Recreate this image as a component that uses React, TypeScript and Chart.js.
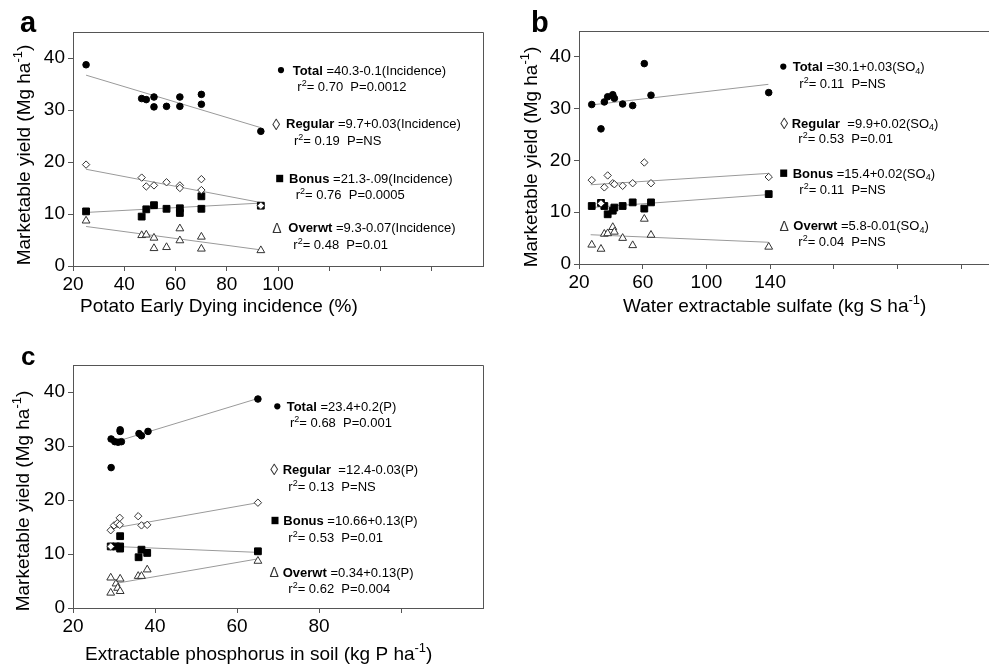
import React, { useEffect, useRef } from "react";
import { Chart, registerables } from "chart.js";
Chart.register(...registerables);

const FONT = "'Liberation Sans', Arial, Helvetica, sans-serif";
const AXIS = "#555";
const FIT = "#9a9a9a";
const TXT = "#000";

// ---------- Panel a : Potato Early Dying incidence (%)
const aTotalX = [25.1, 46.8, 48.6, 51.6, 51.6, 56.5, 61.7, 61.7, 70.1, 70.1, 93.3];
const aTotalY = [38.7, 32.2, 32.0, 32.5, 30.6, 30.7, 32.5, 30.7, 33.0, 31.1, 25.9];
const aRegularX = [25.1, 46.8, 48.6, 51.6, 56.5, 61.7, 61.7, 70.1, 70.1, 93.3];
const aRegularY = [19.5, 17.0, 15.3, 15.5, 16.1, 15.5, 15.0, 16.7, 14.6, 11.6];
const aBonusX = [25.1, 46.8, 48.6, 51.6, 56.5, 61.7, 61.7, 70.1, 70.1, 93.3];
const aBonusY = [10.5, 9.5, 10.9, 11.7, 11.0, 11.1, 10.2, 13.4, 11.0, 11.6];
const aOverwtX = [25.1, 46.8, 48.6, 51.6, 51.6, 56.5, 61.7, 61.7, 70.1, 70.1, 93.3];
const aOverwtY = [8.7, 5.9, 6.0, 5.4, 3.4, 3.6, 7.2, 4.9, 5.6, 3.3, 3.0];
const aFitX = [25.1, 93.3];
const aTotalFit = [36.7, 26.6];
const aRegularFit = [18.6, 12.2];
const aBonusFit = [10.3, 12.1];
const aOverwtFit = [7.6, 3.1];
const aXLabels = [20, 40, 60, 80, 100];
const aEquations = [" =40.3-0.1(Incidence)", " =9.7+0.03(Incidence)", " =21.3-.09(Incidence)", " =9.3-0.07(Incidence)"];
const aR2 = ["0.70", "0.19", "0.76", "0.48"];
const aP = ["P=0.0012", "P=NS", "P=0.0005", "P=0.01"];

// ---------- Panel b : Water extractable sulfate
const bSiteX = [28.0, 33.8, 35.9, 38.0, 41.2, 42.2, 47.4, 53.7, 61.0, 65.2, 139.1];
const bTotalY = [30.8, 26.1, 31.3, 32.3, 32.7, 32.0, 30.9, 30.6, 38.7, 32.6, 33.1];
const bRegularY = [16.2, 11.7, 14.8, 17.1, 15.6, 15.4, 15.1, 15.6, 19.6, 15.6, 16.8];
const bBonusY = [11.2, 11.8, 11.2, 9.6, 10.3, 10.9, 11.2, 11.9, 10.7, 11.9, 13.5];
const bOverwtY = [3.7, 2.9, 5.8, 5.9, 7.1, 6.2, 5.0, 3.6, 8.7, 5.6, 3.3];
const bFitX = [27.3, 138.9];
const bTotalFit = [30.7, 34.7];
const bRegularFit = [15.3, 17.5];
const bBonusFit = [10.9, 13.4];
const bOverwtFit = [5.65, 4.2];
const bXLabels = [20, 60, 100, 140];
const bEquations = [" =30.1+0.03(SO4)", "  =9.9+0.02(SO4)", " =15.4+0.02(SO4)", " =5.8-0.01(SO4)"];
const bR2 = ["0.11", "0.53", "0.11", "0.04"];
const bP = ["P=NS", "P=0.01", "P=NS", "P=NS"];

// ---------- Panel c : Extractable phosphorus in soil
const cTotalX = [29.3, 30.2, 31.0, 31.8, 31.5, 31.5, 36.1, 36.7, 38.3, 65.1, 29.3];
const cTotalY = [31.3, 30.8, 30.7, 30.8, 33.0, 32.7, 32.3, 31.9, 32.7, 38.7, 26.0];
const cRegularX = [29.2, 30.0, 30.8, 31.4, 31.4, 35.9, 36.7, 38.1, 65.1, 29.2];
const cRegularY = [14.4, 15.3, 15.7, 16.7, 15.4, 17.0, 15.3, 15.4, 19.5, 11.4];
const cBonusX = [29.2, 30.5, 31.5, 31.5, 31.5, 36.0, 36.7, 38.1, 65.1];
const cBonusY = [11.4, 11.4, 11.4, 11.0, 13.3, 9.4, 10.8, 10.2, 10.5];
const cOverwtX = [29.2, 29.2, 30.5, 30.9, 31.5, 31.5, 35.9, 36.7, 38.1, 65.1];
const cOverwtY = [5.6, 2.8, 4.5, 3.7, 5.4, 3.1, 5.9, 5.9, 7.1, 8.7];
const cFitX = [30.0, 65.1];
const cTotalFit = [30.7, 38.8];
const cRegularFit = [14.8, 19.5];
const cBonusFit = [11.4, 10.3];
const cOverwtFit = [4.5, 9.1];
const cXLabels = [20, 40, 60, 80];
const cEquations = [" =23.4+0.2(P)", "  =12.4-0.03(P)", " =10.66+0.13(P)", " =0.34+0.13(P)"];
const cR2 = ["0.68", "0.13", "0.53", "0.62"];
const cP = ["P=0.001", "P=NS", "P=0.01", "P=0.004"];

const seriesNames = ["Total", "Regular", "Bonus", "Overwt"];
const yTickValues = [0, 10, 20, 30, 40];

type Seg = { t: string; b?: boolean; sup?: boolean; sub?: boolean };

function pts(xs: number[], ys: number[]) {
  return xs.map((x, i) => ({ x, y: ys[i] }));
}

function eqSegs(s: string): Seg[] {
  const i = s.indexOf("SO4");
  if (i < 0) return [{ t: s }];
  return [{ t: s.slice(0, i + 2) }, { t: "4", sub: true }, { t: s.slice(i + 3) }];
}

function drawSegs(ctx: CanvasRenderingContext2D, x: number, y: number, segs: Seg[], size: number, measureOnly = false) {
  let cx = x;
  for (const s of segs) {
    const fs = s.sup || s.sub ? Math.round(size * 0.66) : size;
    ctx.font = `${s.b ? "bold " : ""}${fs}px ${FONT}`;
    const dy = s.sup ? -size * 0.4 : s.sub ? size * 0.2 : 0;
    if (!measureOnly) ctx.fillText(s.t, cx, y + dy);
    cx += ctx.measureText(s.t).width;
  }
  return cx - x;
}

type Marker = "dot" | "lozenge" | "square" | "delta";
type Line = { x: number; y: number; segs: Seg[]; m?: Marker; mx?: number };

interface PanelSpec {
  w: number;
  h: number;
  left: number;
  top: number;
  pad: { top: number; right: number };
  yW: number;
  xH: number;
  xMin: number;
  xMax: number;
  xStep: number;
  xLabels: number[];
  total: { x: number; y: number }[];
  regular: { x: number; y: number }[];
  bonus: { x: number; y: number }[];
  overwt: { x: number; y: number }[];
  fits: { x: number; y: number }[][];
  letter: { t: string; x: number; y: number; size: number };
  yTitle: { x: number; cy: number };
  xTitle: { x: number; y: number; segs: Seg[] };
  lines: Line[];
}

function buildLines(
  eqs: string[],
  r2: string[],
  ps: string[],
  rows: { mx: number; tx: number; y: number; sx: number; sy: number }[]
): Line[] {
  const out: Line[] = [];
  const markers: Marker[] = ["dot", "lozenge", "square", "delta"];
  rows.forEach((r, i) => {
    out.push({ x: r.tx, y: r.y, m: markers[i], mx: r.mx, segs: [{ t: seriesNames[i], b: true }, ...eqSegs(eqs[i])] });
    out.push({ x: r.sx, y: r.sy, segs: [{ t: "r" }, { t: "2", sup: true }, { t: "= " + r2[i] + "  " + ps[i] }] });
  });
  return out;
}

const yTitleSegs: Seg[] = [{ t: "Marketable yield (Mg ha" }, { t: "-1", sup: true }, { t: ")" }];

const panels: PanelSpec[] = [
  {
    w: 495, h: 330, left: 0, top: 0, pad: { top: 32, right: 12 }, yW: 73, xH: 64,
    xMin: 20, xMax: 180, xStep: 20, xLabels: aXLabels,
    total: pts(aTotalX, aTotalY), regular: pts(aRegularX, aRegularY), bonus: pts(aBonusX, aBonusY), overwt: pts(aOverwtX, aOverwtY),
    fits: [pts(aFitX, aTotalFit), pts(aFitX, aRegularFit), pts(aFitX, aBonusFit), pts(aFitX, aOverwtFit)],
    letter: { t: "a", x: 20, y: 31.5, size: 29 },
    yTitle: { x: 30, cy: 155 },
    xTitle: { x: 80, y: 311.5, segs: [{ t: "Potato Early Dying incidence (%)" }] },
    lines: buildLines(aEquations, aR2, aP, [
      { mx: 281, tx: 292.7, y: 74.5, sx: 297.3, sy: 91 },
      { mx: 272.2, tx: 286, y: 128.3, sx: 294, sy: 145 },
      { mx: 279.7, tx: 289, y: 183, sx: 295.7, sy: 199 },
      { mx: 272.2, tx: 288.3, y: 232.3, sx: 293.3, sy: 249 },
    ]),
  },
  {
    w: 545, h: 330, left: 490, top: 0, pad: { top: 31, right: 10 }, yW: 89, xH: 66,
    xMin: 20, xMax: 300, xStep: 40, xLabels: bXLabels,
    total: pts(bSiteX, bTotalY), regular: pts(bSiteX, bRegularY), bonus: pts(bSiteX, bBonusY), overwt: pts(bSiteX, bOverwtY),
    fits: [pts(bFitX, bTotalFit), pts(bFitX, bRegularFit), pts(bFitX, bBonusFit), pts(bFitX, bOverwtFit)],
    letter: { t: "b", x: 41, y: 31.5, size: 29 },
    yTitle: { x: 47, cy: 157 },
    xTitle: { x: 133, y: 311.5, segs: [{ t: "Water extractable sulfate (kg S ha" }, { t: "-1", sup: true }, { t: ")" }] },
    lines: buildLines(bEquations, bR2, bP, [
      { mx: 293.3, tx: 302.7, y: 71, sx: 309.3, sy: 87.7 },
      { mx: 290.2, tx: 301.7, y: 127.7, sx: 308.3, sy: 143.3 },
      { mx: 293.7, tx: 302.7, y: 177.7, sx: 309.3, sy: 194.3 },
      { mx: 289.5, tx: 303.3, y: 230, sx: 308.3, sy: 245.7 },
    ]),
  },
  {
    w: 495, h: 336, left: 0, top: 330, pad: { top: 35, right: 12 }, yW: 73, xH: 58,
    xMin: 20, xMax: 120, xStep: 20, xLabels: cXLabels,
    total: pts(cTotalX, cTotalY), regular: pts(cRegularX, cRegularY), bonus: pts(cBonusX, cBonusY), overwt: pts(cOverwtX, cOverwtY),
    fits: [pts(cFitX, cTotalFit), pts(cFitX, cRegularFit), pts(cFitX, cBonusFit), pts(cFitX, cOverwtFit)],
    letter: { t: "c", x: 21, y: 35, size: 26 },
    yTitle: { x: 29, cy: 171 },
    xTitle: { x: 85, y: 330, segs: [{ t: "Extractable phosphorus in soil (kg P ha" }, { t: "-1", sup: true }, { t: ")" }] },
    lines: buildLines(cEquations, cR2, cP, [
      { mx: 277.3, tx: 286.7, y: 80.7, sx: 290, sy: 97.3 },
      { mx: 270.2, tx: 282.7, y: 144, sx: 288.3, sy: 161 },
      { mx: 275, tx: 283.3, y: 195, sx: 288.3, sy: 211.7 },
      { mx: 269.5, tx: 282.7, y: 246.7, sx: 288.3, sy: 263.3 },
    ]),
  },
];

function drawMarker(ctx: CanvasRenderingContext2D, m: Marker, x: number, y: number) {
  ctx.save();
  ctx.fillStyle = "#000";
  if (m === "dot") {
    ctx.beginPath();
    ctx.arc(x, y - 4.4, 3.1, 0, Math.PI * 2);
    ctx.fill();
  } else if (m === "square") {
    ctx.fillRect(x - 3.5, y - 8.2, 7, 7.4);
  } else if (m === "lozenge") {
    ctx.fillStyle = "#333";
    ctx.font = `16px ${FONT}`;
    ctx.fillText("\u25CA", x, y + 1.4);
  } else {
    ctx.fillStyle = "#333";
    ctx.font = `14px ${FONT}`;
    ctx.fillText("\u0394", x, y + 0.5);
  }
  ctx.restore();
}

function makeOverlay(p: PanelSpec) {
  return {
    id: "overlay",
    afterDraw(chart: Chart) {
      const ctx = chart.ctx;
      const ca = chart.chartArea;
      const al = (v: number) => Math.round(v - 0.5) + 0.5;
      ctx.save();
      // frame (top and right sides)
      ctx.strokeStyle = AXIS;
      ctx.lineWidth = 1;
      ctx.beginPath();
      ctx.moveTo(al(ca.left), al(ca.top));
      ctx.lineTo(al(ca.right), al(ca.top));
      ctx.lineTo(al(ca.right), al(ca.bottom));
      ctx.stroke();

      ctx.textAlign = "left";
      ctx.textBaseline = "alphabetic";
      // panel letter
      ctx.fillStyle = "#000";
      ctx.font = `bold ${p.letter.size}px ${FONT}`;
      ctx.fillText(p.letter.t, p.letter.x, p.letter.y);
      // x title
      drawSegs(ctx, p.xTitle.x, p.xTitle.y, p.xTitle.segs, 19);
      // y title
      ctx.save();
      ctx.translate(p.yTitle.x, p.yTitle.cy);
      ctx.rotate(-Math.PI / 2);
      const w = drawSegs(ctx, 0, 0, yTitleSegs, 19, true);
      drawSegs(ctx, -w / 2, 0, yTitleSegs, 19);
      ctx.restore();
      // equations
      for (const ln of p.lines) {
        if (ln.m && ln.mx !== undefined) drawMarker(ctx, ln.m, ln.mx, ln.y);
        ctx.fillStyle = TXT;
        drawSegs(ctx, ln.x, ln.y, ln.segs, 13);
      }
      ctx.restore();
    },
  };
}

function makeConfig(p: PanelSpec): any {
  const fitDs = p.fits.map((d, i) => ({
    label: seriesNames[i] + " fit",
    data: d,
    showLine: true,
    pointRadius: 0,
    borderColor: FIT,
    borderWidth: 1,
    fill: false,
    order: 10,
  }));
  return {
    type: "scatter",
    data: {
      datasets: [
        { label: "Regular", data: p.regular, pointStyle: "rectRot", pointRadius: 3.7, backgroundColor: "#fff", borderColor: "#333", borderWidth: 1, order: 0 },
        { label: "Bonus", data: p.bonus, pointStyle: "rect", pointRadius: 4.8, backgroundColor: "#000", borderColor: "#000", borderWidth: 1, order: 1 },
        { label: "Total", data: p.total, pointStyle: "circle", pointRadius: 3.3, backgroundColor: "#000", borderColor: "#000", borderWidth: 1, order: 2 },
        { label: "Overwt", data: p.overwt, pointStyle: "triangle", pointRadius: 4.5, backgroundColor: "#fff", borderColor: "#333", borderWidth: 1, order: 3 },
        ...fitDs,
      ],
    },
    options: {
      animation: false,
      responsive: false,
      maintainAspectRatio: false,
      events: [],
      layout: { padding: { top: p.pad.top, right: p.pad.right, left: 0, bottom: 0 } },
      plugins: { legend: { display: false }, tooltip: { enabled: false } },
      scales: {
        x: {
          type: "linear",
          position: "bottom",
          min: p.xMin,
          max: p.xMax,
          afterBuildTicks: (s: any) => {
            s.ticks = s.ticks.filter((t: any) => t.value < p.xMax - 1e-6);
          },
          afterFit: (s: any) => {
            s.height = p.xH;
          },
          ticks: {
            stepSize: p.xStep,
            autoSkip: false,
            maxRotation: 0,
            padding: 2,
            color: "#000",
            font: { family: FONT, size: 19 },
            callback: (v: any) => (p.xLabels.includes(Number(v)) ? String(v) : ""),
          },
          grid: { drawOnChartArea: false, drawTicks: true, tickLength: 5, color: AXIS, lineWidth: 1 },
          border: { display: true, color: AXIS, width: 1 },
          title: { display: false },
        },
        y: {
          type: "linear",
          position: "left",
          min: 0,
          max: 45,
          afterBuildTicks: (s: any) => {
            s.ticks = s.ticks.filter((t: any) => yTickValues.includes(t.value));
          },
          afterFit: (s: any) => {
            s.width = p.yW;
          },
          ticks: {
            stepSize: 10,
            padding: 3,
            color: "#000",
            font: { family: FONT, size: 19 },
          },
          grid: { drawOnChartArea: false, drawTicks: true, tickLength: 5, color: AXIS, lineWidth: 1 },
          border: { display: true, color: AXIS, width: 1 },
          title: { display: false },
        },
      },
    },
    plugins: [makeOverlay(p)],
  };
}

function Panel({ p }: { p: PanelSpec }) {
  const ref = useRef<HTMLCanvasElement | null>(null);
  useEffect(() => {
    if (!ref.current) return;
    const chart = new Chart(ref.current, makeConfig(p));
    return () => chart.destroy();
  }, [p]);
  return (
    <canvas
      ref={ref}
      width={p.w}
      height={p.h}
      style={{ position: "absolute", left: p.left, top: p.top, width: p.w, height: p.h }}
    />
  );
}

export default function App() {
  return (
    <div
      style={{
        position: "fixed",
        left: 0,
        top: 0,
        width: 989,
        height: 666,
        overflow: "hidden",
        background: "#fff",
      }}
    >
      {panels.map((p, i) => (
        <Panel key={i} p={p} />
      ))}
    </div>
  );
}
